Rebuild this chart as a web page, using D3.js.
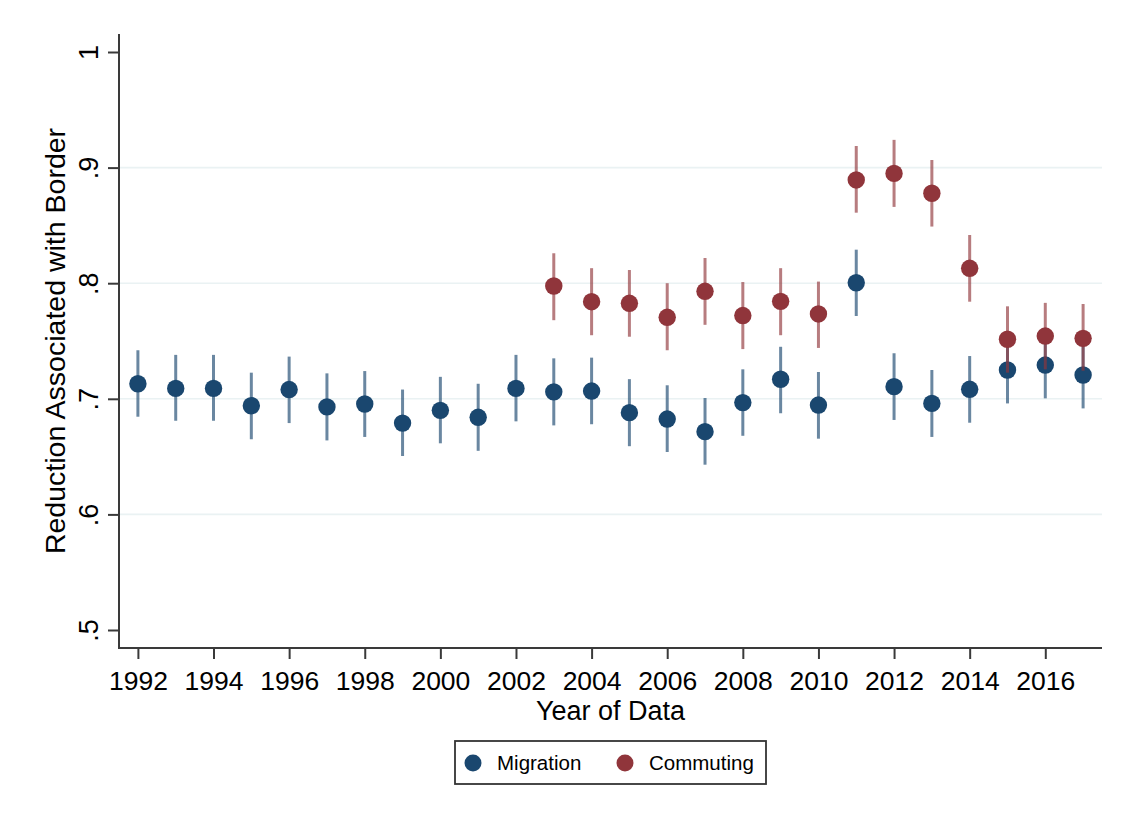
<!DOCTYPE html>
<html>
<head>
<meta charset="utf-8">
<script src="https://cdn.jsdelivr.net/npm/d3@7"></script>
<style>
  html, body { margin: 0; padding: 0; background: #ffffff; }
  svg { display: block; font-family: "Liberation Sans", Arial, sans-serif; }
</style>
</head>
<body>
<svg id="chart" width="1122" height="819"></svg>
<script>
// ---- Data ----
const migrationYears = [1992,1993,1994,1995,1996,1997,1998,1999,2000,2001,2002,2003,2004,2005,2006,2007,2008,2009,2010,2011,2012,2013,2014,2015,2016,2017];
const migrationEst   = [0.713,0.709,0.709,0.694,0.708,0.693,0.6955,0.679,0.690,0.684,0.709,0.706,0.7067,0.688,0.6825,0.6716,0.6967,0.7169,0.6946,0.8004,0.7105,0.696,0.7082,0.7249,0.7292,0.7206];
const migrationLo    = [0.6845,0.681,0.681,0.665,0.679,0.664,0.667,0.6505,0.6615,0.655,0.6805,0.677,0.678,0.659,0.654,0.643,0.668,0.6875,0.6655,0.7716,0.6817,0.667,0.6793,0.696,0.7004,0.6917];
const migrationHi    = [0.742,0.738,0.738,0.7226,0.7365,0.722,0.724,0.708,0.719,0.713,0.738,0.735,0.7356,0.717,0.7117,0.7007,0.7255,0.745,0.7232,0.829,0.7394,0.7249,0.737,0.7543,0.758,0.749];

const commutingYears = [2003,2004,2005,2006,2007,2008,2009,2010,2011,2012,2013,2014,2015,2016,2017];
const commutingEst   = [0.7976,0.784,0.7826,0.7705,0.793,0.772,0.7843,0.7734,0.8893,0.895,0.8778,0.8129,0.7515,0.7543,0.7523];
const commutingLo    = [0.768,0.755,0.7537,0.742,0.764,0.743,0.755,0.744,0.861,0.866,0.849,0.784,0.7226,0.7255,0.7243];
const commutingHi    = [0.8259,0.813,0.8114,0.800,0.8218,0.801,0.813,0.8014,0.9187,0.924,0.9066,0.8417,0.780,0.783,0.782];

const xTickValues = [1992,1994,1996,1998,2000,2002,2004,2006,2008,2010,2012,2014,2016];
const yTickValues = [0.5,0.6,0.7,0.8,0.9,1.0];
const yTickLabels = [".5",".6",".7",".8",".9","1"];
const yGridValues = [0.6,0.7,0.8,0.9];

const seriesNames = ["Migration","Commuting"];
const yTitle = "Reduction Associated with Border";
const xTitle = "Year of Data";

// ---- Layout ----
const plotLeft = 119, plotRight = 1102, plotTop = 34, plotBottom = 648;
const colors = { Migration: "#1a476f", Commuting: "#90353b" };
const axisColor = "#3a3a3a";

const svg = d3.select("#chart");

const x = d3.scaleLinear().domain([1991.5, 2017.5]).range([plotLeft, plotRight]);
const y = d3.scaleLinear().domain([0.5, 1.0]).range([630, 52]);

// gridlines
svg.append("g").selectAll("line").data(yGridValues).join("line")
  .attr("x1", plotLeft).attr("x2", plotRight)
  .attr("y1", d => y(d)).attr("y2", d => y(d))
  .attr("stroke", "#eaf2f3").attr("stroke-width", 1.6);

// Y axis
const yAxis = d3.axisLeft(y).tickValues(yTickValues)
  .tickFormat((d,i) => yTickLabels[i]).tickSize(11).tickPadding(0);
const gy = svg.append("g").attr("transform", `translate(${plotLeft},0)`).call(yAxis);
gy.select(".domain").remove();
gy.selectAll(".tick line").attr("stroke", axisColor).attr("stroke-width", 2);
gy.selectAll(".tick text").remove();
gy.selectAll(".tick").append("text")
  .attr("transform", "translate(-21,0) rotate(-90)")
  .attr("text-anchor", "middle")
  .attr("fill", "#000")
  .attr("font-size", 27)
  .text((d,i) => yTickLabels[i]);
svg.append("line")
  .attr("x1", plotLeft).attr("x2", plotLeft)
  .attr("y1", plotTop).attr("y2", plotBottom)
  .attr("stroke", axisColor).attr("stroke-width", 2);

// X axis
const xAxis = d3.axisBottom(x).tickValues(xTickValues)
  .tickFormat(d3.format("d")).tickSize(11).tickPadding(0);
const gx = svg.append("g").attr("transform", `translate(0,${plotBottom})`).call(xAxis);
gx.select(".domain").remove();
gx.selectAll(".tick line").attr("stroke", axisColor).attr("stroke-width", 2);
gx.selectAll(".tick text")
  .attr("y", 42).attr("dy", null)
  .attr("fill", "#000")
  .attr("font-size", 26.5)
  .attr("font-family", "'Liberation Sans', Arial, sans-serif");
svg.append("line")
  .attr("x1", plotLeft - 1).attr("x2", plotRight)
  .attr("y1", plotBottom).attr("y2", plotBottom)
  .attr("stroke", axisColor).attr("stroke-width", 2);

// titles
svg.append("text")
  .attr("transform", `translate(65,${(plotTop + plotBottom) / 2}) rotate(-90)`)
  .attr("text-anchor", "middle")
  .attr("font-size", 28.5)
  .attr("fill", "#000")
  .text(yTitle);
svg.append("text")
  .attr("x", (plotLeft + plotRight) / 2).attr("y", 720)
  .attr("text-anchor", "middle")
  .attr("font-size", 27)
  .attr("fill", "#000")
  .text(xTitle);

// series
function drawSeries(name, years, est, lo, hi) {
  const g = svg.append("g");
  const c = colors[name];
  g.selectAll("line").data(years).join("line")
    .attr("x1", d => x(d)).attr("x2", d => x(d))
    .attr("y1", (d,i) => y(lo[i])).attr("y2", (d,i) => y(hi[i]))
    .attr("stroke", c).attr("stroke-opacity", 0.65).attr("stroke-width", 3);
  g.selectAll("circle").data(years).join("circle")
    .attr("cx", d => x(d)).attr("cy", (d,i) => y(est[i]))
    .attr("r", 8.7).attr("fill", c);
}
drawSeries("Migration", migrationYears, migrationEst, migrationLo, migrationHi);
drawSeries("Commuting", commutingYears, commutingEst, commutingLo, commutingHi);

// legend
const lg = svg.append("g");
lg.append("rect").attr("x", 455).attr("y", 741).attr("width", 311).attr("height", 43)
  .attr("fill", "#fff").attr("stroke", "#333").attr("stroke-width", 1.8);
const legendItems = [
  { name: seriesNames[0], cx: 473, tx: 497 },
  { name: seriesNames[1], cx: 625, tx: 649 }
];
legendItems.forEach(it => {
  lg.append("circle").attr("cx", it.cx).attr("cy", 763).attr("r", 8.5).attr("fill", colors[it.name]);
  lg.append("text").attr("x", it.tx).attr("y", 770).attr("font-size", 20.5).attr("fill", "#000").text(it.name);
});
</script>
</body>
</html>
